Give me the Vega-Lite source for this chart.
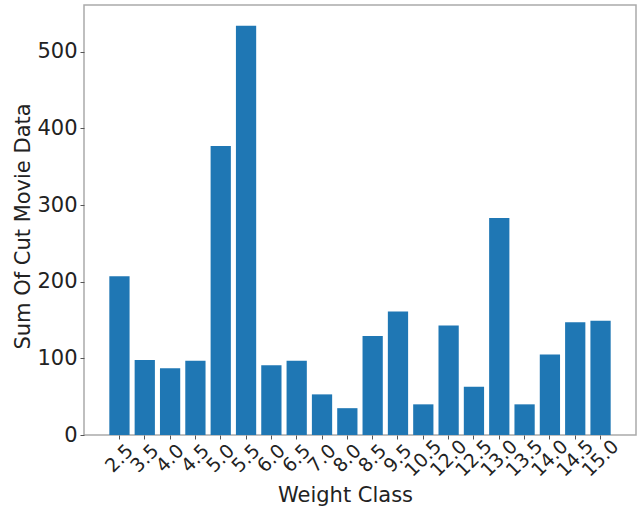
{
  "$schema": "https://vega.github.io/schema/vega-lite/v6.json",
  "width": 552,
  "height": 430,
  "autosize": {"type": "none"},
  "padding": {"left": 84, "top": 5, "right": 6, "bottom": 73},
  "config": {
    "font": "DejaVu Sans",
    "view": {"stroke": "#aaaaaa", "strokeWidth": 1.5},
    "axis": {"grid": false, "domain": false, "tickColor": "#555555", "tickSize": 4, "labelColor": "#222222", "titleColor": "#222222", "labelFont": "DejaVu Sans", "titleFont": "DejaVu Sans", "titleFontWeight": "normal"}
  },
  "data": {
    "values": [
      {"weight": "2.5", "sum": 207},
      {"weight": "3.5", "sum": 98},
      {"weight": "4.0", "sum": 87},
      {"weight": "4.5", "sum": 97},
      {"weight": "5.0", "sum": 377},
      {"weight": "5.5", "sum": 534},
      {"weight": "6.0", "sum": 91},
      {"weight": "6.5", "sum": 97},
      {"weight": "7.0", "sum": 53},
      {"weight": "8.0", "sum": 35},
      {"weight": "8.5", "sum": 129},
      {"weight": "9.5", "sum": 161},
      {"weight": "10.5", "sum": 40},
      {"weight": "12.0", "sum": 143},
      {"weight": "12.5", "sum": 63},
      {"weight": "13.0", "sum": 283},
      {"weight": "13.5", "sum": 40},
      {"weight": "14.0", "sum": 105},
      {"weight": "14.5", "sum": 147},
      {"weight": "15.0", "sum": 149}
    ]
  },
  "mark": {"type": "bar", "color": "#1f77b4"},
  "encoding": {
    "x": {
      "field": "weight",
      "type": "ordinal",
      "sort": null,
      "scale": {"paddingInner": 0.2, "paddingOuter": 1.01},
      "axis": {
        "title": "Weight Class",
        "titleFontSize": 21,
        "titleX": 261,
        "titleY": 60,
        "titleAlign": "center",
        "titleBaseline": "middle",
        "labelAngle": -45,
        "labelAlign": "center",
        "labelBaseline": "middle",
        "labelPadding": 19,
        "labelFontSize": 19,
        "labelOverlap": false,
        "labelFlush": false
      }
    },
    "y": {
      "field": "sum",
      "type": "quantitative",
      "scale": {"domain": [0, 561], "nice": false},
      "axis": {
        "title": "Sum Of Cut Movie Data",
        "titleFontSize": 21,
        "titleX": -61,
        "titleY": 221,
        "titleAngle": -90,
        "titleAlign": "center",
        "titleBaseline": "middle",
        "values": [0, 100, 200, 300, 400, 500],
        "labelFontSize": 21,
        "labelPadding": 3
      }
    }
  }
}
